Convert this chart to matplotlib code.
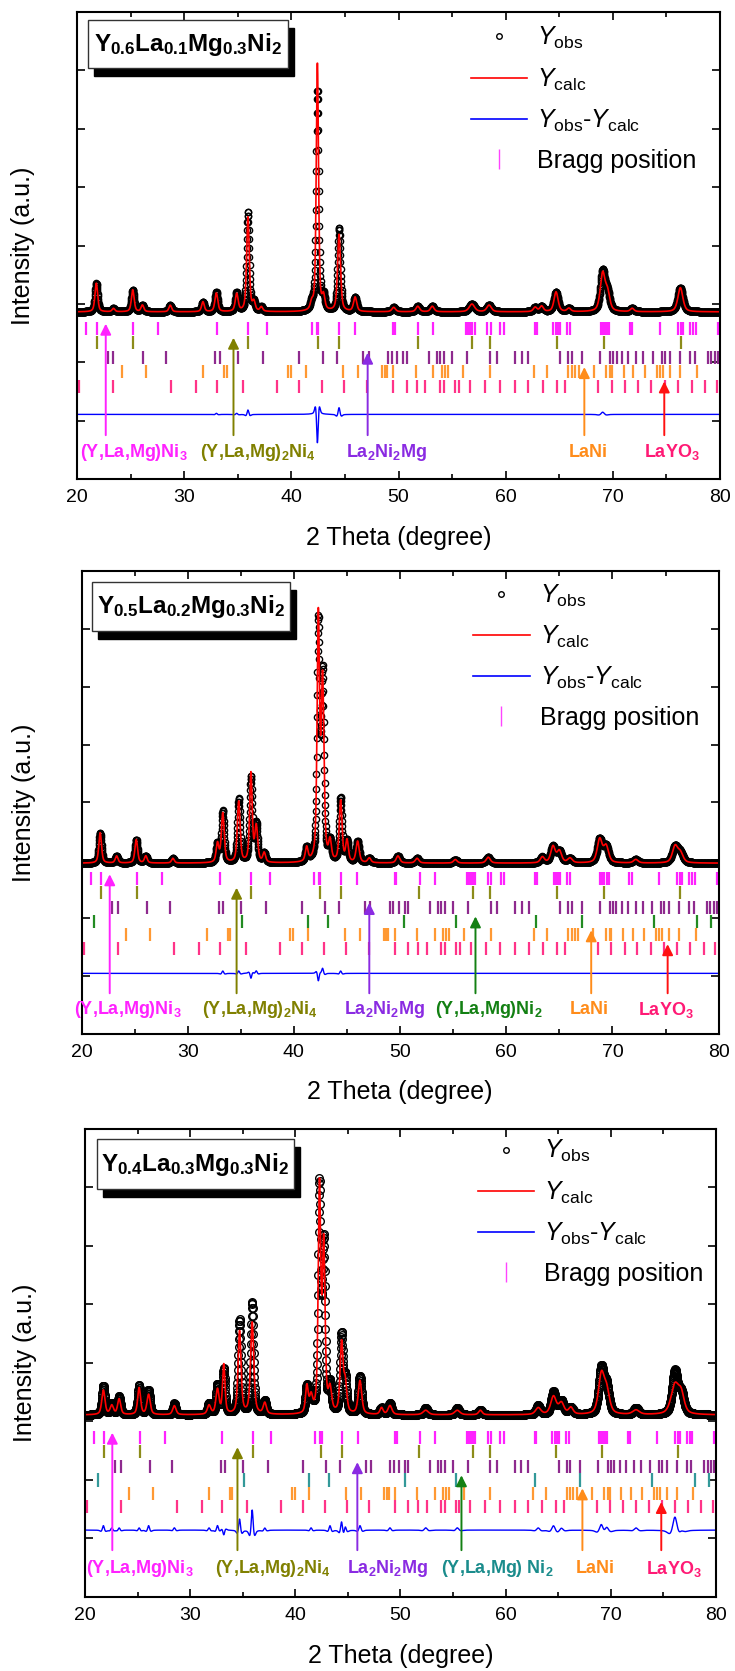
import numpy as np
import matplotlib
matplotlib.use('Agg')
import matplotlib.pyplot as plt
from matplotlib.lines import Line2D
from matplotlib.patches import Rectangle

plt.rcParams['font.family'] = ['Liberation Sans', 'DejaVu Sans']
plt.rcParams['mathtext.fontset'] = 'custom'
plt.rcParams['mathtext.rm'] = 'Liberation Sans'
plt.rcParams['mathtext.it'] = 'Liberation Sans:italic'
plt.rcParams['mathtext.bf'] = 'Liberation Sans:bold'

# ---- data ----
titles = ['Y$_{\\mathbf{0.6}}$La$_{\\mathbf{0.1}}$Mg$_{\\mathbf{0.3}}$Ni$_{\\mathbf{2}}$',
          'Y$_{\\mathbf{0.5}}$La$_{\\mathbf{0.2}}$Mg$_{\\mathbf{0.3}}$Ni$_{\\mathbf{2}}$',
          'Y$_{\\mathbf{0.4}}$La$_{\\mathbf{0.3}}$Mg$_{\\mathbf{0.3}}$Ni$_{\\mathbf{2}}$']

# peak lists: position (deg), observed height, calculated height, fwhm (deg)
pos1 = [21.8, 23.4, 25.2, 26.1, 28.7, 31.75, 33.0, 34.9, 35.95, 36.5, 37.2, 41.9, 42.43, 43.0, 44.45,
        45.95, 49.55, 51.8, 53.15, 56.85, 58.45, 62.75, 63.35, 64.7, 65.9, 69.05, 69.5, 71.8, 76.3]
obs1 = [13, 1.5, 10, 3, 3, 4.5, 9, 8.5, 45, 4, 2, 3, 100, 6, 38,
        6.5, 2, 2.5, 2.5, 3.5, 3, 2, 2.5, 9, 1.5, 18, 8, 1.5, 11]
calc1 = [13, 1.5, 10, 3, 3, 4.5, 8.5, 8, 43, 4, 2, 3, 113, 6, 35,
         6.5, 2, 2.5, 2.5, 3.5, 3, 2, 2.5, 9, 1.5, 17, 8, 1.5, 11]
wid1 = [0.3, 0.3, 0.3, 0.3, 0.3, 0.3, 0.3, 0.3, 0.28, 0.3, 0.3, 0.3, 0.28, 0.3, 0.3,
        0.35, 0.4, 0.4, 0.4, 0.6, 0.5, 0.4, 0.4, 0.45, 0.4, 0.5, 0.5, 0.4, 0.55]

pos2 = [21.75, 23.3, 25.15, 26.05, 28.6, 32.8, 33.3, 34.8, 35.95, 36.45, 37.2, 41.2, 42.3, 42.7, 43.4, 44.4,
        45.0, 46.0, 47.1, 49.8, 51.6, 55.2, 58.3, 63.4, 64.4, 65.0, 66.0, 68.8, 69.4, 72.2, 75.9, 76.4]
obs2 = [13, 3, 10, 3, 2, 8, 22, 27, 36, 16, 4, 6, 100, 78, 8, 27,
        9, 9, 2, 3, 2, 1.5, 2.5, 2.5, 7, 5, 2, 10, 7, 1.5, 7, 4]
calc2 = [13, 3, 10, 3, 2, 8, 21, 26, 38, 15, 4, 6, 103, 76, 8, 26,
         9, 9, 2, 3, 2, 1.5, 2.5, 2.5, 7, 5, 2, 10, 7, 1.5, 7, 4]
wid2 = [0.3, 0.3, 0.3, 0.3, 0.3, 0.3, 0.3, 0.3, 0.3, 0.3, 0.3, 0.3, 0.28, 0.3, 0.3, 0.3,
        0.3, 0.35, 0.35, 0.4, 0.4, 0.4, 0.45, 0.45, 0.5, 0.5, 0.5, 0.55, 0.55, 0.5, 0.6, 0.6]

pos3 = [21.75, 22.55, 23.25, 25.15, 26.05, 28.5, 31.8, 32.6, 33.2, 34.7, 35.9, 37.1, 41.1, 41.5, 42.3, 42.7, 43.3,
        44.4, 44.75, 46.15, 48.2, 49.0, 52.4, 55.4, 57.6, 63.1, 64.55, 65.3, 66.2, 69.1, 69.6, 72.4, 76.1, 76.7]
obs3 = [13, 5, 8, 13, 11, 5, 5, 13, 20, 42, 50, 6, 12, 8, 100, 74, 12,
        35, 15, 17, 3, 5, 3, 3, 2, 4, 10, 6, 3, 20, 12, 3, 19, 9]
calc3 = [11, 4, 7, 12, 9, 4, 4, 11, 22, 37, 41, 5, 12, 7, 100, 74, 10,
         31, 13, 15, 3, 4, 2, 2, 2, 3, 8, 5, 3, 17, 10, 2, 13, 8]
wid3 = [0.3, 0.3, 0.3, 0.3, 0.3, 0.3, 0.3, 0.3, 0.3, 0.3, 0.3, 0.3, 0.3, 0.3, 0.28, 0.3, 0.3,
        0.3, 0.3, 0.35, 0.35, 0.35, 0.4, 0.4, 0.4, 0.45, 0.5, 0.5, 0.5, 0.55, 0.55, 0.5, 0.6, 0.6]

# Bragg reflections of each phase
ticks_ni3 = [20.85, 21.85, 25.25, 27.6, 33.05, 36.0, 37.7, 41.9, 42.35, 42.5, 44.45, 45.95, 49.5, 49.65, 51.85,
             53.25, 56.3, 56.5, 56.7, 56.9, 57.1, 58.3, 58.6, 59.5, 59.8, 62.75, 62.9, 64.45, 64.65, 64.85,
             65.05, 65.7, 66.0, 68.85, 69.05, 69.25, 69.45, 69.65, 71.6, 71.8, 74.4, 76.1, 76.35, 76.55,
             77.2, 77.5, 77.75, 79.85]
ticks_ni4 = [21.85, 25.25, 36.0, 42.45, 44.45, 51.8, 56.9, 58.5, 64.8, 69.2, 76.35]
ticks_la2ni2mg = [22.9, 23.4, 26.2, 28.3, 32.9, 33.3, 35.0, 37.4, 40.75, 42.95, 44.25, 46.7, 47.2, 49.05, 49.35,
                  49.85, 50.45, 50.75, 52.8, 53.55, 53.85, 54.25, 54.95, 56.4, 58.55, 59.15, 60.85, 61.5,
                  62.1, 65.05, 65.85, 66.15, 67.1, 68.8, 69.75, 70.05, 70.35, 70.9, 71.45, 72.2, 72.85,
                  73.75, 74.55, 74.85, 75.35, 76.25, 77.2, 77.65, 78.9, 79.2, 79.55, 79.85]
ticks_ni2 = [21.2, 35.1, 41.3, 43.2, 50.4, 55.3, 62.8, 67.1, 73.9, 78.0, 79.3]
ticks_lani = [24.15, 26.45, 31.8, 33.75, 34.0, 39.65, 39.95, 41.35, 44.85, 46.25, 48.45, 48.7, 48.9, 49.5,
              51.6, 53.25, 54.05, 54.35, 54.65, 56.05, 58.55, 62.6, 63.85, 65.85, 66.15, 66.45, 66.8,
              68.2, 69.4, 69.75, 69.9, 71.0, 71.9, 73.0, 74.1, 74.4, 74.7, 75.35, 76.25, 77.85]
ticks_layo3 = [20.2, 23.4, 28.75, 31.1, 33.05, 35.45, 38.65, 40.75, 42.85, 44.95, 47.05, 49.5, 50.75, 51.7,
               52.5, 53.85, 54.2, 55.3, 55.6, 56.65, 58.05, 59.45, 60.85, 62.1, 63.5, 64.75, 65.55, 68.65,
               69.9, 71.15, 72.35, 73.6, 74.85, 76.1, 77.35, 78.6, 79.7]

phase_ni3 = '(Y,La,Mg)Ni$_{\\mathbf{3}}$'
phase_ni4 = '(Y,La,Mg)$_{\\mathbf{2}}$Ni$_{\\mathbf{4}}$'
phase_mg = 'La$_{\\mathbf{2}}$Ni$_{\\mathbf{2}}$Mg'
phase_ni2 = '(Y,La,Mg)Ni$_{\\mathbf{2}}$'
phase_ni2b = '(Y,La,Mg) Ni$_{\\mathbf{2}}$'
phase_lani = 'LaNi'
phase_layo3 = 'LaYO$_{\\mathbf{3}}$'

tth = np.arange(20.0, 80.001, 0.02)


def profile(pos, h, w):
    y = np.zeros_like(tth)
    for p, a, fw in zip(pos, h, w):
        d = (tth - p) / fw
        y += a * (0.55 / (1 + 4 * d ** 2) + 0.45 * np.exp(-4 * np.log(2) * d ** 2))
    return y


def panel(ax, title, pos, obs, calc, wid, rows, arrows, labels, lay):
    yobs = profile(pos, obs, wid)
    # calculated peaks keep the observed area
    ycalc = profile(pos, calc, [w * o / c for w, o, c in zip(wid, obs, calc)])
    b, t = lay['base'], lay['top']
    R = yobs.max() / (t - b)
    ax.set_ylim(-b * R, (1 - b) * R)
    ax.set_xlim(20, 80)

    ax.plot(tth, yobs, ls='none', marker='o', mfc='none', mec='k', ms=lay['ms'], mew=1.0)
    ax.plot(tth, ycalc, color='red', lw=1.2)
    ax.plot(tth, yobs - ycalc + (lay['diff'] - b) * R, color='blue', lw=1.0)

    tr = ax.get_xaxis_transform()
    for (tk, col), f in zip(rows, lay['rows']):
        ax.vlines(tk, f - 0.014, f + 0.014, colors=col, lw=1.6, transform=tr)

    for x, col, row in arrows:
        ax.annotate('', xy=(x, lay['rows'][row] + 0.01), xytext=(x, lay['tail']),
                    xycoords=tr, textcoords=tr,
                    arrowprops=dict(arrowstyle='-|>', color=col, lw=1.4, mutation_scale=16,
                                    shrinkA=0, shrinkB=0))
    for x, txt, col in labels:
        ax.text(x, lay['label'], txt, color=col, fontsize=13, fontweight='bold',
                ha='center', va='center', transform=tr)

    # title box with shadow
    x0, y0, w, h = lay['box']
    ax.add_patch(Rectangle((x0 + 0.0095, y0 - 0.017), w, h, transform=ax.transAxes,
                           facecolor='black', edgecolor='black', zorder=5))
    ax.add_patch(Rectangle((x0, y0), w, h, transform=ax.transAxes,
                           facecolor='white', edgecolor='#333333', lw=1, zorder=6))
    ax.text(x0 + w / 2, y0 + h / 2, title, transform=ax.transAxes, fontsize=17.5,
            fontweight='bold', ha='center', va='center', zorder=7)

    handles = [Line2D([], [], ls='none', marker='o', mfc='none', mec='k', ms=4, mew=1.0),
               Line2D([], [], color='red', lw=1.2),
               Line2D([], [], color='blue', lw=1.2),
               Line2D([], [], ls='none', marker='|', color='#ff44ff', ms=14, mew=1.0)]
    names = ['$Y_{\\mathrm{obs}}$', '$Y_{\\mathrm{calc}}$',
             '$Y_{\\mathrm{obs}}$-$Y_{\\mathrm{calc}}$', 'Bragg position']
    ax.legend(handles, names, loc='upper left', bbox_to_anchor=lay['leg'], frameon=False,
              fontsize=18, handlelength=2.25, handletextpad=0.4, labelspacing=0.6,
              borderaxespad=0, borderpad=0)

    ax.set_xticks(np.arange(20, 81, 10))
    ax.set_xticks(np.arange(25, 80, 10), minor=True)
    ax.set_yticks(np.linspace(-b * R, (1 - b) * R, 9)[1:-1])
    ax.tick_params(which='both', direction='in', top=True, right=True, labelleft=False,
                   labelsize=14, pad=7, width=1.2)
    ax.tick_params(which='major', length=6)
    ax.tick_params(which='minor', length=3.5)
    for s in ax.spines.values():
        s.set_linewidth(1.5)
    ax.set_xlabel('2 Theta (degree)', fontsize=18)
    ax.set_ylabel('Intensity (a.u.)', fontsize=18)
    ax.xaxis.set_label_coords(0.5, lay['xlab'])
    ax.yaxis.set_label_coords(lay['ylab'], 0.5)


fig = plt.figure(figsize=(7.35, 16.71), dpi=100)

ax1 = fig.add_axes([0.1048, 0.7133, 0.8748, 0.2795])
panel(ax1, titles[0], pos1, obs1, calc1, wid1,
      [(ticks_ni3, '#ff22ff'), (ticks_ni4, '#8c8c1a'), (ticks_la2ni2mg, '#8e2a8e'),
       (ticks_lani, '#ff9933'), (ticks_layo3, '#ff3388')],
      [(22.68, '#ff22ff', 0), (34.6, '#808000', 1), (47.12, '#8a2be2', 2),
       (67.34, '#ff8c1a', 3), (74.8, '#ff1111', 4)],
      [(25.35, phase_ni3, '#ff22ff'), (36.9, phase_ni4, '#808000'), (48.85, phase_mg, '#8a2be2'),
       (67.7, phase_lani, '#ff8c1a'), (75.5, phase_layo3, '#ff1a75')],
      dict(base=0.358, top=0.830, ms=4.5, diff=0.1385, rows=[0.3227, 0.2927, 0.2606, 0.2298, 0.1991],
           tail=0.094, label=0.057, box=(0.017, 0.880, 0.311, 0.103), leg=(0.613, 0.972),
           xlab=-0.10, ylab=-0.066))

ax2 = fig.add_axes([0.111, 0.3812, 0.8667, 0.2771])
panel(ax2, titles[1], pos2, obs2, calc2, wid2,
      [(ticks_ni3, '#ff22ff'), (ticks_ni4, '#8c8c1a'), (ticks_la2ni2mg, '#8e2a8e'),
       (ticks_ni2, '#228b22'), (ticks_lani, '#ff9933'), (ticks_layo3, '#ff3388')],
      [(22.65, '#ff22ff', 0), (34.6, '#808000', 1), (47.1, '#8a2be2', 2), (57.1, '#138013', 3),
       (68.0, '#ff8c1a', 4), (75.2, '#ff1111', 5)],
      [(24.4, phase_ni3, '#ff22ff'), (36.8, phase_ni4, '#808000'), (48.5, phase_mg, '#8a2be2'),
       (58.4, phase_ni2, '#138013'), (67.8, phase_lani, '#ff8c1a'), (75.0, phase_layo3, '#ff1a75')],
      dict(base=0.369, top=0.905, ms=4.5, diff=0.131, rows=[0.335, 0.306, 0.273, 0.244, 0.214, 0.184],
           tail=0.088, label=0.052, box=(0.016, 0.870, 0.311, 0.106), leg=(0.615, 0.975),
           xlab=-0.10, ylab=-0.072))

ax3 = fig.add_axes([0.1156, 0.0443, 0.8585, 0.2801])
panel(ax3, titles[2], pos3, obs3, calc3, wid3,
      [(ticks_ni3, '#ff22ff'), (ticks_ni4, '#8c8c1a'), (ticks_la2ni2mg, '#8e2a8e'),
       (ticks_ni2, '#339999'), (ticks_lani, '#ff9933'), (ticks_layo3, '#ff3388')],
      [(22.6, '#ff22ff', 0), (34.5, '#808000', 1), (45.9, '#8a2be2', 2), (55.8, '#138013', 3),
       (67.3, '#ff8c1a', 4), (74.8, '#ff1111', 5)],
      [(25.2, phase_ni3, '#ff22ff'), (37.9, phase_ni4, '#808000'), (48.8, phase_mg, '#8a2be2'),
       (59.2, phase_ni2b, '#1a8c8c'), (68.5, phase_lani, '#ff8c1a'), (76.0, phase_layo3, '#ff1a75')],
      dict(base=0.389, top=0.895, ms=5.5, diff=0.143, rows=[0.341, 0.310, 0.278, 0.250, 0.222, 0.193],
           tail=0.10, label=0.06, box=(0.019, 0.872, 0.312, 0.106), leg=(0.623, 0.98),
           xlab=-0.10, ylab=-0.076))

fig.savefig('out.png', dpi=100)
